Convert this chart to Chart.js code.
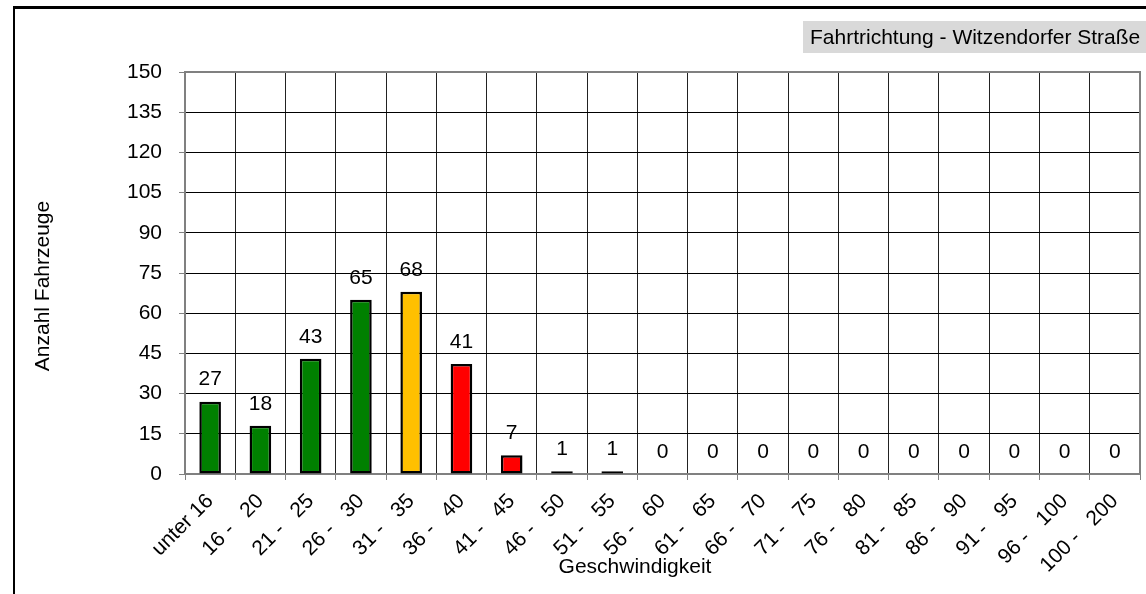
<!DOCTYPE html>
<html>
<head>
<meta charset="utf-8">
<script src="https://cdn.jsdelivr.net/npm/chart.js@4.4.1/dist/chart.umd.min.js"></script>
<style>
  html, body { margin: 0; padding: 0; background: #fff; overflow: hidden; }
  #wrap { position: relative; width: 1146px; height: 594px; }
  #frame { position: absolute; left: 13px; top: 6px; width: 1200px; height: 700px;
           border-left: 2px solid #000; border-top: 3px solid #000; }
  canvas { position: absolute; left: 0; top: 0; }
</style>
</head>
<body>
<div id="wrap">
  <div id="frame"></div>
  <canvas id="chart" width="1146" height="594"></canvas>
</div>
<script>
const categories = ["unter 16", "16 -   20", "21 -   25", "26 -   30", "31 -   35", "36 -   40",
  "41 -   45", "46 -   50", "51 -   55", "56 -   60", "61 -   65", "66 -   70", "71 -   75",
  "76 -   80", "81 -   85", "86 -   90", "91 -   95", "96 -   100", "100 -   200"];
const counts = [27, 18, 43, 65, 68, 41, 7, 1, 1, 0, 0, 0, 0, 0, 0, 0, 0, 0, 0];
const barColors = ["#008000", "#008000", "#008000", "#008000", "#FFC000", "#FF0000",
  "#FF0000", "#FF0000", "#FF0000", "#FF0000", "#FF0000", "#FF0000", "#FF0000",
  "#FF0000", "#FF0000", "#FF0000", "#FF0000", "#FF0000", "#FF0000"];
const yTicks = [0, 15, 30, 45, 60, 75, 90, 105, 120, 135, 150];

const FONT = "Arial, 'Liberation Sans', sans-serif";

const extras = {
  id: "extras",
  beforeDraw(chart) {
    const c = chart.ctx;
    c.save();
    // title box top right
    c.fillStyle = "#D9D9D9";
    c.fillRect(803, 21, 350, 32);
    c.fillStyle = "#000";
    c.font = "21px " + FONT;
    c.textBaseline = "middle";
    c.textAlign = "left";
    c.fillText("Fahrtrichtung - Witzendorfer Straße", 810, 38);
    c.restore();
  },
  afterDatasetsDraw(chart) {
    const c = chart.ctx;
    const a = chart.chartArea;
    c.save();
    // plot frame top / right
    c.strokeStyle = "#808080";
    c.lineWidth = 2;
    c.beginPath();
    c.moveTo(a.left, a.top);
    c.lineTo(a.right, a.top);
    c.lineTo(a.right, a.bottom);
    c.stroke();
    // value labels
    const meta = chart.getDatasetMeta(0);
    c.fillStyle = "#000";
    c.font = "21px " + FONT;
    c.textAlign = "center";
    c.textBaseline = "middle";
    meta.data.forEach((bar, i) => {
      c.fillText(String(counts[i]), bar.x, bar.y - 22);
    });
    // axis titles
    c.fillText("Geschwindigkeit", 635, 567);
    c.translate(43, 286);
    c.rotate(-Math.PI / 2);
    c.fillText("Anzahl Fahrzeuge", 0, 0);
    c.restore();
  }
};

new Chart(document.getElementById("chart"), {
  type: "bar",
  data: {
    labels: categories,
    datasets: [{
      data: counts,
      backgroundColor: barColors,
      borderColor: "#000",
      borderWidth: 2.5,
      borderSkipped: false,
      categoryPercentage: 1,
      barPercentage: 0.43
    }]
  },
  options: {
    responsive: false,
    animation: false,
    layout: { padding: { left: 0, top: 72, right: 6, bottom: 0 } },
    plugins: { legend: { display: false }, tooltip: { enabled: false } },
    scales: {
      x: {
        offset: true,
        grid: { offset: true, color: "#222", lineWidth: 1, tickLength: 6, tickColor: "#808080" },
        border: { color: "#808080", width: 2 },
        ticks: { color: "#000", font: { family: FONT, size: 21 }, maxRotation: 45, minRotation: 45, padding: 9, autoSkip: false },
        afterFit(scale) { scale.height = 120; }
      },
      y: {
        min: 0,
        max: 150,
        afterBuildTicks(scale) { scale.ticks = yTicks.map(v => ({ value: v })); },
        grid: { color: "#000", lineWidth: 1, tickLength: 6, tickColor: "#808080" },
        border: { color: "#808080", width: 2 },
        ticks: { color: "#000", font: { family: FONT, size: 21 }, padding: 17 },
        afterFit(scale) { scale.width = 185; }
      }
    }
  },
  plugins: [extras]
});
</script>
</body>
</html>
